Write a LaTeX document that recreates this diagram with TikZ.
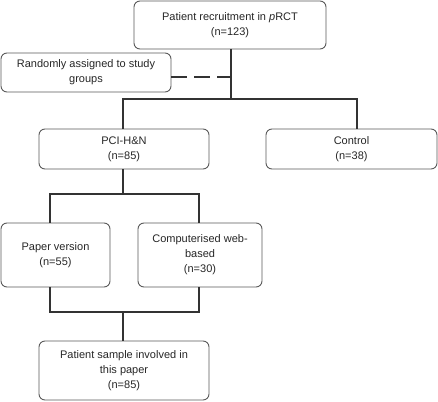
\documentclass[tikz,border=0pt]{standalone}
\usepackage{fontspec}
\setmainfont{Liberation Sans}
\begin{document}
\begin{tikzpicture}[x=1pt,y=-1pt,
  box/.style={draw=black!65,line width=0.9pt,rounded corners=6pt,align=center,inner sep=0pt,
    font=\fontsize{11}{15}\selectfont,text=black!85},
  conn/.style={draw=black!80,line width=2.2pt},
  dconn/.style={draw=black!80,line width=2.2pt,dash pattern=on 16pt off 7pt}]
\useasboundingbox (0,0) rectangle (438,401);
\node[box,minimum width=192pt,minimum height=48pt] (top) at (230,25) {Patient recruitment in \textit{p}RCT\\(n=123)};
\node[box,minimum width=170pt,minimum height=39pt] (rand) at (86,72.5) {Randomly assigned to study\\groups};
\node[box,minimum width=170pt,minimum height=40pt] (pci) at (124,149) {PCI-H\&N\\(n=85)};
\node[box,minimum width=171pt,minimum height=40pt] (ctrl) at (351.5,149) {Control\\(n=38)};
\node[box,minimum width=109pt,minimum height=64pt] (paper) at (55.5,255) {Paper version\\(n=55)};
\node[box,minimum width=124pt,minimum height=64pt] (comp) at (200,255) {Computerised web-\\based\\(n=30)};
\node[box,minimum width=170pt,minimum height=59pt] (sample) at (124,370.5) {Patient sample involved in\\this paper\\(n=85)};
\coordinate (j1) at (231,99);
\coordinate (jl) at (123,99);
\coordinate (jr) at (357,99);
\coordinate (d1) at (171,77);
\coordinate (d2) at (231,77);
\coordinate (j2) at (123,194);
\coordinate (j2l) at (50,194);
\coordinate (j2r) at (199,194);
\coordinate (j3l) at (50,312);
\coordinate (j3r) at (199,312);
\coordinate (j3) at (123,312);
\draw[conn] (231,49) -- (j1);
\draw[conn] (jl|-pci.north) -- (jl) -- (jr) -- (jr|-ctrl.north);
\draw[dconn] (d1) -- (d2);
\draw[conn] (j2|-pci.south) -- (j2);
\draw[conn] (j2l|-paper.north) -- (j2l) -- (j2r) -- (j2r|-comp.north);
\draw[conn] (j3l|-paper.south) -- (j3l) -- (j3r) -- (j3r|-comp.south);
\draw[conn] (j3) -- (j3|-sample.north);
\end{tikzpicture}
\end{document}
